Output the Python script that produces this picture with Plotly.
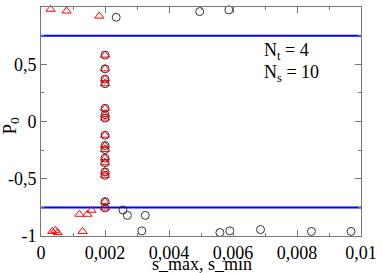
import plotly.graph_objects as go

# Column at s = 0.002 (both series)
col_x = 0.002
col_y = [0.58, 0.46, 0.37, 0.33, 0.115, 0.06, 0.03, -0.12, -0.21, -0.245,
         -0.32, -0.36, -0.44, -0.47, -0.70, -0.755]

# Black open circles (s_max)
circ_x = [0.00235, 0.00496, 0.00587, 0.00256, 0.0027, 0.00326, 0.00315,
          0.00559, 0.0059, 0.00686, 0.00845, 0.00969]
circ_y = [0.91, 0.96, 0.975, -0.773, -0.82, -0.82, -0.955,
          -0.97, -0.955, -0.944, -0.96, -0.96]

# Red open triangles (s_min)
tri_x = [0.0003, 0.0008, 0.00182, 0.0012, 0.00145, 0.00158,
         0.00035, 0.00045, 0.00052, 0.0013]
tri_y = [0.98, 0.965, 0.92, -0.81, -0.81, -0.775,
         -0.96, -0.95, -0.97, -0.96]

# Horizontal reference lines
line_x = [0.0, 0.01]
line_upper = [0.75, 0.75]
line_lower = [-0.75, -0.75]

xtick_vals = [0, 0.002, 0.004, 0.006, 0.008, 0.01]
xtick_text = ["0", "0,002", "0,004", "0,006", "0,008", "0,01"]
ytick_vals = [-1, -0.5, 0, 0.5, 1]
ytick_text = ["-1", "-0,5", "0", "0,5", "1"]

FONT = "Liberation Serif"
tfont = dict(family=FONT, size=18, color="black")

fig = go.Figure()
fig.add_trace(go.Scatter(x=line_x, y=line_upper, mode="lines", hoverinfo="skip",
                         line=dict(color="#0000ff", width=2), cliponaxis=False))
fig.add_trace(go.Scatter(x=line_x, y=line_lower, mode="lines", hoverinfo="skip",
                         line=dict(color="#0000ff", width=2), cliponaxis=False))
fig.add_trace(go.Scatter(x=[col_x] * len(col_y) + circ_x, y=col_y + circ_y,
                         mode="markers", cliponaxis=False, hoverinfo="skip",
                         marker=dict(symbol="circle-open", size=8,
                                     color="#333333", line=dict(width=1))))
fig.add_trace(go.Scatter(x=[col_x] * len(col_y) + tri_x, y=col_y + tri_y,
                         mode="markers", cliponaxis=False, hoverinfo="skip",
                         marker=dict(symbol="triangle-up-open", size=8,
                                     color="#ff0000", line=dict(width=1))))

fig.update_layout(
    width=383, height=273, showlegend=False,
    margin=dict(l=41, r=17, t=6, b=37),
    paper_bgcolor="white", plot_bgcolor="white",
    font=dict(family=FONT, size=18, color="black"),
    xaxis=dict(range=[0, 0.01], tickmode="array", tickvals=xtick_vals,
               ticktext=xtick_text, tickfont=tfont,
               showgrid=False, zeroline=False, showline=True,
               linecolor="#777777", linewidth=1, mirror="ticks",
               ticks="inside", ticklen=6, tickcolor="#777777",
               minor=dict(ticks="inside", dtick=0.001, ticklen=3,
                          tickcolor="#777777")),
    yaxis=dict(range=[-1, 1], tickmode="array", tickvals=ytick_vals,
               ticktext=ytick_text, tickfont=tfont,
               showgrid=False, zeroline=False, showline=True,
               linecolor="#777777", linewidth=1, mirror="ticks",
               ticks="inside", ticklen=6, tickcolor="#777777",
               minor=dict(ticks="inside", dtick=0.25, ticklen=3,
                          tickcolor="#777777")),
)

fig.add_annotation(text="s_max, s_min", xref="paper", yref="paper",
                   x=0.5, y=0, yshift=-28, xshift=1, yanchor="middle",
                   showarrow=False, font=tfont)
fig.add_annotation(text="P<sub>0</sub>", xref="paper", yref="paper",
                   x=0, y=0.5, xshift=-45, yshift=-4, showarrow=False,
                   textangle=-90, font=dict(family=FONT, size=19, color="black"))
fig.add_annotation(text="N<sub>t</sub> = 4", xref="x", yref="y",
                   x=0.0069, y=0.615, xanchor="left", showarrow=False,
                   font=tfont)
fig.add_annotation(text="N<sub>s</sub> = 10", xref="x", yref="y",
                   x=0.0069, y=0.42, xanchor="left", showarrow=False,
                   font=tfont)

fig.write_html("out.html", config={"displayModeBar": False},
               post_script="document.body.style.margin='0px';"
                           "document.body.style.overflow='hidden';")
